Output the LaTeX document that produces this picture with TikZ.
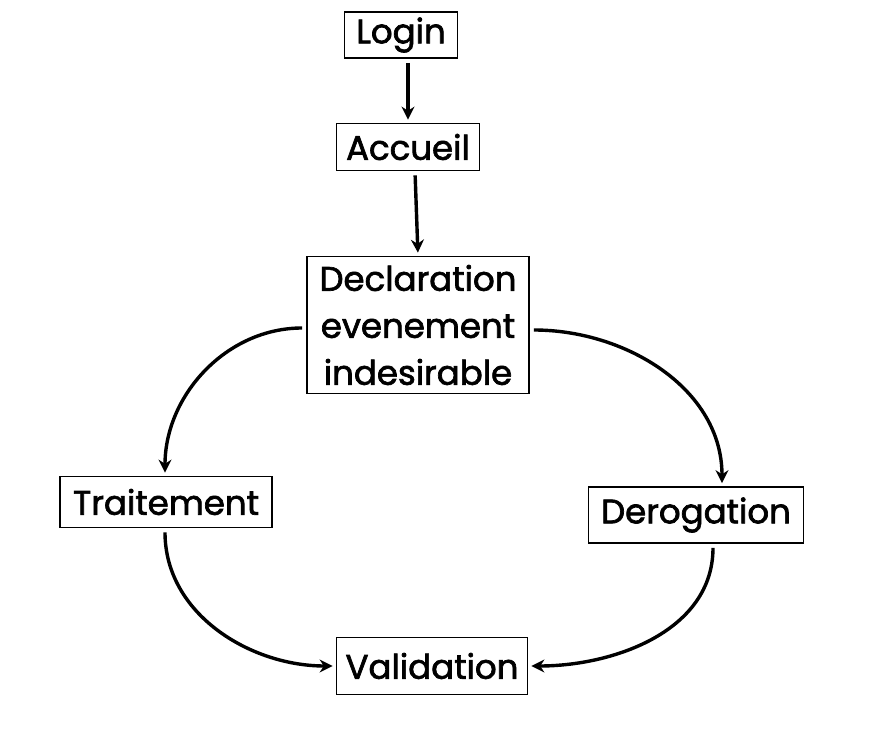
\documentclass[tikz,border=0pt]{standalone}
\usepackage{fontspec}
\newfontfamily\croquis{Poppins}[FakeBold=2]
\usetikzlibrary{arrows.meta}

\begin{document}
\begin{tikzpicture}[x=1pt,y=-1pt,
    etape/.style={draw, line width=1.8pt, font=\croquis\fontsize{34}{47}\selectfont, inner sep=2pt, align=center},
    fleche/.style={line width=3.4pt, -{Stealth[length=13pt,width=13pt]}, shorten <=4pt, shorten >=3pt}]
    % Cadre
    \useasboundingbox (0,0) rectangle (894,735);

    % Etapes
    \node[etape, minimum width=113pt, minimum height=46pt] (login) at (401,35) {Login};
    \node[etape, minimum width=143pt, minimum height=47pt] (accueil) at (408,147) {Accueil};
    \node[etape, minimum width=222pt, minimum height=137pt] (declaration) at (418,325) {Declaration\\evenement\\indesirable};
    \node[etape, minimum width=212pt, minimum height=51pt] (traitement) at (166,502) {Traitement};
    \node[etape, minimum width=215pt, minimum height=56pt] (derogation) at (696,515) {Derogation};
    \node[etape, minimum width=191pt, minimum height=57pt] (validation) at (432,666) {Validation};

    % Liens
    \draw[fleche] ([xshift=7pt]login.south) -- ([xshift=0pt]accueil.north);
    \draw[fleche] ([xshift=7pt]accueil.south) -- ([xshift=0pt]declaration.north);
    \draw[fleche] ([yshift=-3pt]declaration.west) to[out=180,in=90] ([xshift=-1pt]traitement.north);
    \draw[fleche] ([yshift=-5pt]declaration.east) to[out=0,in=90] ([xshift=26pt]derogation.north);
    \draw[fleche] ([xshift=-1pt]traitement.south) to[out=-90,in=180] (validation.west);
    \draw[fleche] ([xshift=17pt]derogation.south) to[out=-90,in=0] (validation.east);
\end{tikzpicture}
\end{document}
